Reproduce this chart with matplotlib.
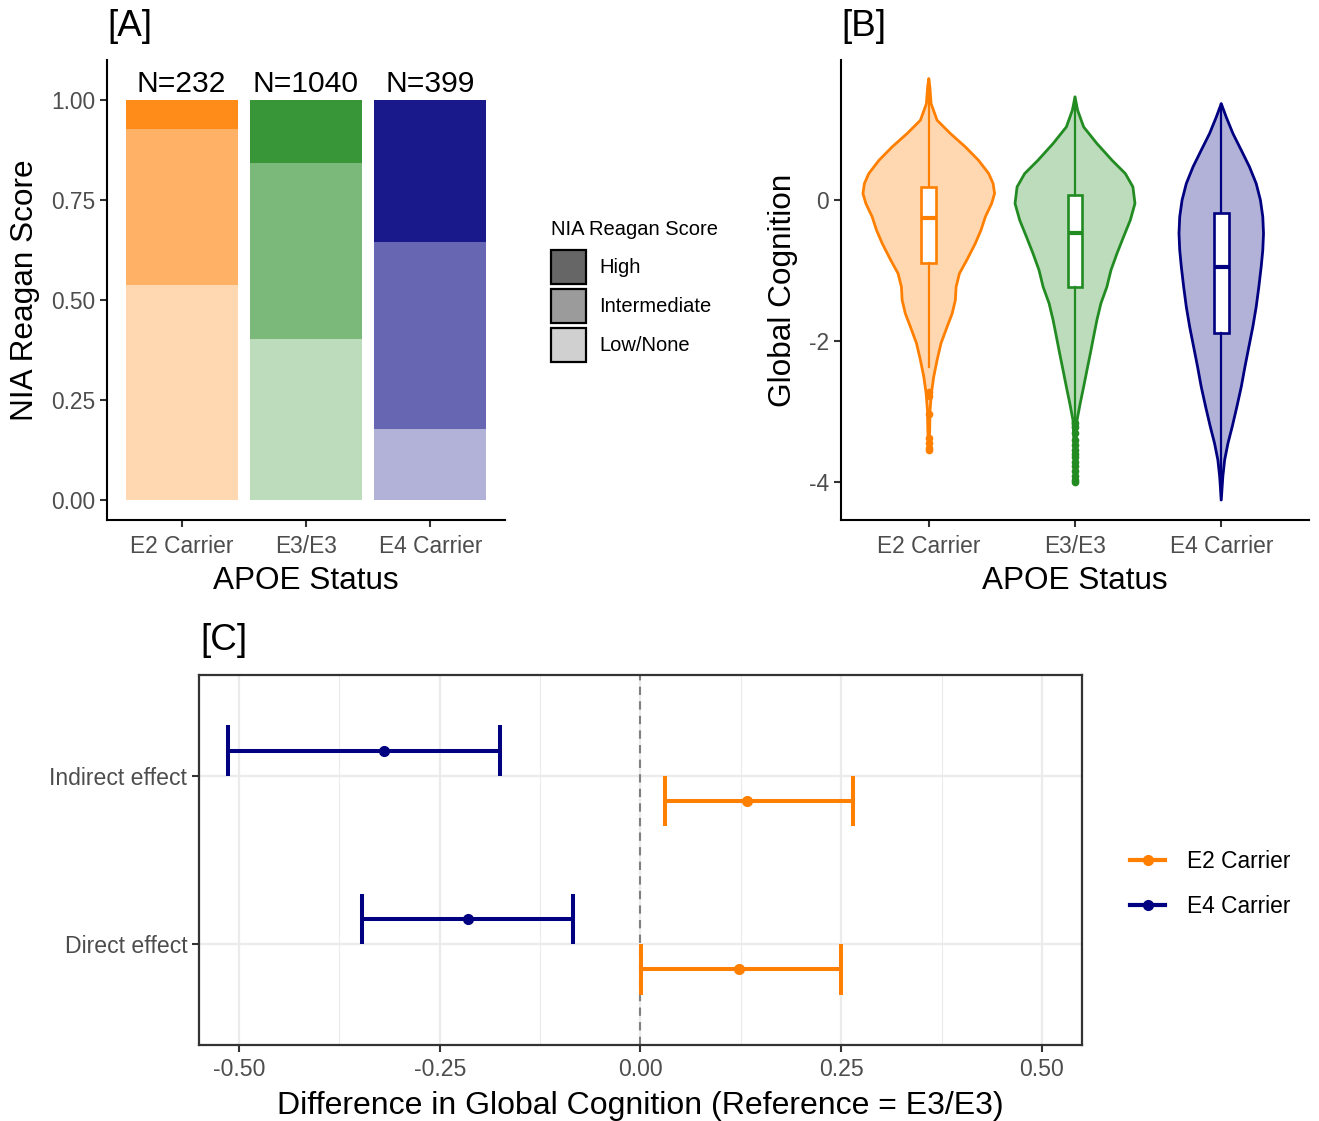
import numpy as np
import matplotlib
matplotlib.use("Agg")
import matplotlib.pyplot as plt
from matplotlib.patches import Patch
from matplotlib.lines import Line2D
from matplotlib.ticker import FixedLocator

plt.rcParams['font.family'] = ['Liberation Sans', 'DejaVu Sans']

# ---------------- data ----------------
groups = ["E2 Carrier", "E3/E3", "E4 Carrier"]
n_labels = ["N=232", "N=1040", "N=399"]
score_levels = ["High", "Intermediate", "Low/None"]
prop_low = [0.538, 0.403, 0.178]
prop_inter = [0.390, 0.440, 0.467]
prop_high = [0.072, 0.157, 0.355]

group_colors = ["#FF7F00", "#228B22", "#000080"]
legend_grays = ["#666666", "#9B9B9B", "#D0D0D0"]

# violin outlines (y value, half width)
e2_y = [1.726, 1.60, 1.37, 1.135, 0.946, 0.757, 0.567, 0.378, 0.236, 0.095, -0.047,
        -0.236, -0.426, -0.615, -0.851, -1.04, -1.23, -1.418, -1.61, -1.80, -2.03,
        -2.27, -2.506, -2.74, -2.98, -3.30, -3.55]
e2_w = [0.0, 0.008, 0.016, 0.057, 0.148, 0.25, 0.34, 0.41, 0.44, 0.45, 0.43,
        0.387, 0.357, 0.318, 0.26, 0.21, 0.187, 0.182, 0.16, 0.125, 0.084,
        0.057, 0.034, 0.018, 0.009, 0.006, 0.0]
e3_y = [1.466, 1.277, 1.04, 0.804, 0.567, 0.378, 0.189, -0.047, -0.284, -0.52,
        -0.757, -0.993, -1.23, -1.466, -1.70, -1.94, -2.175, -2.41, -2.65, -2.88,
        -3.12, -3.50, -4.0]
e3_w = [0.0, 0.018, 0.059, 0.15, 0.253, 0.344, 0.396, 0.41, 0.378, 0.332,
        0.287, 0.246, 0.218, 0.177, 0.15, 0.127, 0.105, 0.082, 0.059, 0.036,
        0.014, 0.006, 0.0]
e4_y = [1.371, 1.18, 0.946, 0.709, 0.473, 0.236, 0.0, -0.236, -0.473, -0.709,
        -0.946, -1.23, -1.513, -1.797, -2.08, -2.364, -2.648, -2.93, -3.215,
        -3.45, -3.69, -3.92, -4.255]
e4_w = [0.0, 0.034, 0.08, 0.137, 0.193, 0.239, 0.268, 0.284, 0.289, 0.284,
        0.273, 0.257, 0.239, 0.216, 0.189, 0.162, 0.137, 0.107, 0.075,
        0.046, 0.023, 0.011, 0.0]

# boxplot summaries
box_q1 = [-0.898, -1.23, -1.88]
box_med = [-0.26, -0.463, -0.946]
box_q3 = [0.189, 0.071, -0.189]
box_lo = [-2.37, -3.12, -4.255]
box_hi = [1.72, 1.466, 1.371]
e2_fliers = [-2.72, -2.78, -3.03, -3.38, -3.45, -3.52, -3.55]
e3_fliers = [-3.17, -3.22, -3.30, -3.40, -3.48, -3.55, -3.60, -3.65, -3.72,
             -3.78, -3.85, -3.92, -3.97, -4.0]
e4_fliers = []

# panel C estimates
effects = ["Direct effect", "Indirect effect"]
c_groups = ["E2 Carrier", "E4 Carrier"]
e2_est = [0.123, 0.1325]
e2_lo = [0.0005, 0.0306]
e2_hi = [0.2497, 0.265]
e4_est = [-0.2146, -0.319]
e4_lo = [-0.347, -0.514]
e4_hi = [-0.0847, -0.1755]

# ---------------- figure ----------------
W, H = 1319, 1121
fig = plt.figure(figsize=(W / 100, H / 100), dpi=100)

def ax_rect(l, t, r, b):
    return [l / W, 1 - b / H, (r - l) / W, (b - t) / H]

tick_gray = "#4D4D4D"
TICK = 16.4
TITLE = 22.7

# ---------------- Panel A ----------------
axA = fig.add_axes(ax_rect(107, 60, 505, 520))
xpos = np.arange(1, 4)
alphas = {"High": 0.9, "Intermediate": 0.6, "Low/None": 0.3}
for i in range(3):
    c = group_colors[i]
    axA.bar(xpos[i], prop_low[i], width=0.9, color=c, alpha=alphas["Low/None"], linewidth=0)
    axA.bar(xpos[i], prop_inter[i], bottom=prop_low[i], width=0.9, color=c,
            alpha=alphas["Intermediate"], linewidth=0)
    axA.bar(xpos[i], prop_high[i], bottom=prop_low[i] + prop_inter[i], width=0.9, color=c,
            alpha=alphas["High"], linewidth=0)
    axA.text(xpos[i], 1.02, n_labels[i], ha="center", va="baseline", fontsize=21.6, color="black")
axA.set_xlim(0.4, 3.6)
axA.set_ylim(-0.05, 1.10)
axA.set_xticks(xpos)
axA.set_xticklabels(groups)
axA.set_yticks([0, 0.25, 0.5, 0.75, 1.0])
axA.set_yticklabels(["0.00", "0.25", "0.50", "0.75", "1.00"])
axA.set_xlabel("APOE Status", fontsize=TITLE, labelpad=6)
axA.set_ylabel("NIA Reagan Score", fontsize=TITLE, labelpad=8)

# ---------------- Panel B ----------------
axB = fig.add_axes(ax_rect(841, 60, 1309, 520))
vy = [e2_y, e3_y, e4_y]
vw = [e2_w, e3_w, e4_w]
fl = [e2_fliers, e3_fliers, e4_fliers]
for i in range(3):
    c = group_colors[i]
    y = np.array(vy[i])
    w = np.array(vw[i])
    xs = np.concatenate([xpos[i] - w, (xpos[i] + w)[::-1]])
    ys = np.concatenate([y, y[::-1]])
    axB.fill(xs, ys, facecolor=c, alpha=0.3, edgecolor="none", zorder=1)
    axB.fill(xs, ys, facecolor="none", edgecolor=c, lw=2.0, joinstyle="round", zorder=2)
    stats = [dict(med=box_med[i], q1=box_q1[i], q3=box_q3[i], whislo=box_lo[i],
                  whishi=box_hi[i], fliers=fl[i])]
    axB.bxp(stats, positions=[xpos[i]], widths=0.1, showcaps=False, patch_artist=True,
            boxprops=dict(facecolor="white", edgecolor=c, lw=1.9),
            medianprops=dict(color=c, lw=3),
            whiskerprops=dict(color=c, lw=1.6),
            flierprops=dict(marker="o", markerfacecolor=c, markeredgecolor=c, markersize=4.5),
            zorder=3, manage_ticks=False)
axB.set_xlim(0.4, 3.6)
axB.set_ylim(-4.54, 1.99)
axB.set_xticks(xpos)
axB.set_xticklabels(groups)
axB.set_yticks([-4, -2, 0])
axB.set_yticklabels(["-4", "-2", "0"])
axB.set_xlabel("APOE Status", fontsize=TITLE, labelpad=6)
axB.set_ylabel("Global Cognition", fontsize=TITLE, labelpad=8)

for ax in (axA, axB):
    for s in ("top", "right"):
        ax.spines[s].set_visible(False)
    for s in ("left", "bottom"):
        ax.spines[s].set_linewidth(1.5)
        ax.spines[s].set_color("black")
    ax.tick_params(axis="both", length=5, width=1.5, color="#333333",
                   labelsize=TICK, labelcolor=tick_gray, pad=3.5)
    ax.tick_params(axis="x", pad=5.5)

# ---------------- Panel C ----------------
axC = fig.add_axes(ax_rect(199, 675, 1082, 1045))
ypos = np.array([1, 2])
dodge = 0.15
cap = 0.15
for est, lo, hi, c, off in [(e2_est, e2_lo, e2_hi, group_colors[0], -dodge),
                            (e4_est, e4_lo, e4_hi, group_colors[2], dodge)]:
    yy = ypos + off
    axC.hlines(yy, lo, hi, color=c, lw=2.9, zorder=3)
    axC.vlines(lo, yy - cap, yy + cap, color=c, lw=2.9, zorder=3)
    axC.vlines(hi, yy - cap, yy + cap, color=c, lw=2.9, zorder=3)
    axC.plot(est, yy, "o", color=c, markersize=7, zorder=4)
axC.axvline(0, color="#808080", lw=1.5, ls=(0, (4, 3)), zorder=2)
axC.set_xlim(-0.55, 0.55)
axC.set_ylim(0.4, 2.6)
axC.set_xticks([-0.5, -0.25, 0, 0.25, 0.5])
axC.set_xticklabels(["-0.50", "-0.25", "0.00", "0.25", "0.50"])
axC.xaxis.set_minor_locator(FixedLocator([-0.375, -0.125, 0.125, 0.375]))
axC.set_yticks(ypos)
axC.set_yticklabels(effects)
axC.grid(which="major", color="#EBEBEB", lw=1.6)
axC.grid(which="minor", axis="x", color="#EBEBEB", lw=0.8)
axC.set_axisbelow(True)
for s in axC.spines.values():
    s.set_color("#333333")
    s.set_linewidth(1.6)
axC.tick_params(axis="both", which="major", length=5, width=1.5, color="#333333",
                labelsize=16.6, labelcolor=tick_gray, pad=3.5)
axC.tick_params(axis="x", which="major", pad=4.5)
axC.tick_params(which="minor", length=0)
axC.set_xlabel("Difference in Global Cognition (Reference = E3/E3)", fontsize=23, labelpad=7)

# ---------------- legends ----------------
fig.text(551 / W, 1 - 229 / H, "NIA Reagan Score", fontsize=14.5, ha="left", va="center")
handlesA = [Patch(facecolor=legend_grays[k], edgecolor="black", lw=1.6, label=score_levels[k])
            for k in range(3)]
fig.legend(handles=handlesA, loc="upper left",
           bbox_to_anchor=(551 / W, 1 - 250 / H), frameon=False, fontsize=14.5,
           handlelength=1.75, handleheight=2.25, labelspacing=0.22,
           handletextpad=0.65, borderpad=0, borderaxespad=0)

handlesC = [Line2D([0], [0], color=group_colors[0], lw=3, marker="o", markersize=7, label=c_groups[0]),
            Line2D([0], [0], color=group_colors[2], lw=3, marker="o", markersize=7, label=c_groups[1])]
fig.legend(handles=handlesC, loc="center left", bbox_to_anchor=(1130 / W, 1 - 884 / H),
           frameon=False, fontsize=16.4, handlelength=1.55, handletextpad=0.95,
           labelspacing=1.0, borderpad=0, borderaxespad=0)

# ---------------- panel tags ----------------
fig.text(107 / W, 1 - 27 / H, "[A]", fontsize=26.5, ha="left", va="center")
fig.text(841 / W, 1 - 27 / H, "[B]", fontsize=26.5, ha="left", va="center")
fig.text(200 / W, 1 - 641 / H, "[C]", fontsize=26.5, ha="left", va="center")

fig.savefig("out.png", dpi=100)
